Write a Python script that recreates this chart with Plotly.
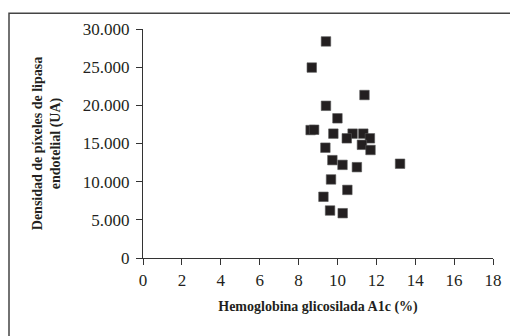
import plotly.graph_objects as go

# Data
hba1c = [9.41, 8.68, 11.39, 9.41, 10.0, 8.62, 8.80, 9.79, 10.78, 11.33, 10.48, 11.67,
         9.38, 11.26, 11.70, 9.74, 10.26, 11.0, 9.67, 10.51, 9.28, 9.62, 10.27, 13.22]
densidad = [28370, 24950, 21350, 19940, 18300, 16760, 16800, 16290, 16290, 16290, 15680, 15680,
            14450, 14830, 14150, 12820, 12200, 11900, 10290, 8920, 8020, 6220, 5870, 12350]
x_ticks = [0, 2, 4, 6, 8, 10, 12, 14, 16, 18]
y_ticks = [0, 5000, 10000, 15000, 20000, 25000, 30000]

fig = go.Figure()
fig.add_trace(go.Scatter(
    x=hba1c, y=densidad, mode="markers",
    marker=dict(symbol="square", size=9.5, color="#231f20",
                line=dict(width=0.6, color="#555555")),
    showlegend=False,
))

W, H = 510, 328
L, R, T, B = 135, 25, 17, 78
pw, ph = W - L - R, H - T - B

font_family = "Liberation Serif, Times New Roman, serif"
fig.update_layout(
    width=W, height=H,
    margin=dict(l=L, r=R, t=T, b=B),
    paper_bgcolor="white", plot_bgcolor="white",
    separators=",.",
    font=dict(family=font_family, color="#231f20", size=17),
    xaxis=dict(
        range=[0, 18], tickvals=x_ticks, showgrid=False, zeroline=False,
        showline=True, linecolor="#333333", linewidth=1.2,
        ticks="outside", ticklen=6, tickcolor="#333333", tickwidth=1.2,
        tickfont=dict(size=17),
        title=dict(text="<b>Hemoglobina glicosilada A1c (%)</b>",
                   font=dict(size=14), standoff=12),
    ),
    yaxis=dict(
        range=[0, 30000], tickvals=y_ticks, tickformat=",d", showgrid=False, zeroline=False,
        showline=True, linecolor="#333333", linewidth=1.2,
        ticks="outside", ticklen=6, tickcolor="#333333", tickwidth=1.2,
        tickfont=dict(size=17), ticklabelstandoff=3,
        title=dict(text="<b>Densidad de píxeles de lipasa<br>endotelial (UA)</b>",
                   font=dict(size=14), standoff=18),
    ),
    shapes=[dict(type="rect", xref="paper", yref="paper",
                 x0=(1 - L) / pw, x1=(W + 20 - L) / pw,
                 y0=-0.6, y1=(ph + T - 1) / ph,
                 line=dict(color="#444444", width=1.5), layer="above")],
)

fig.write_html("out.html")
